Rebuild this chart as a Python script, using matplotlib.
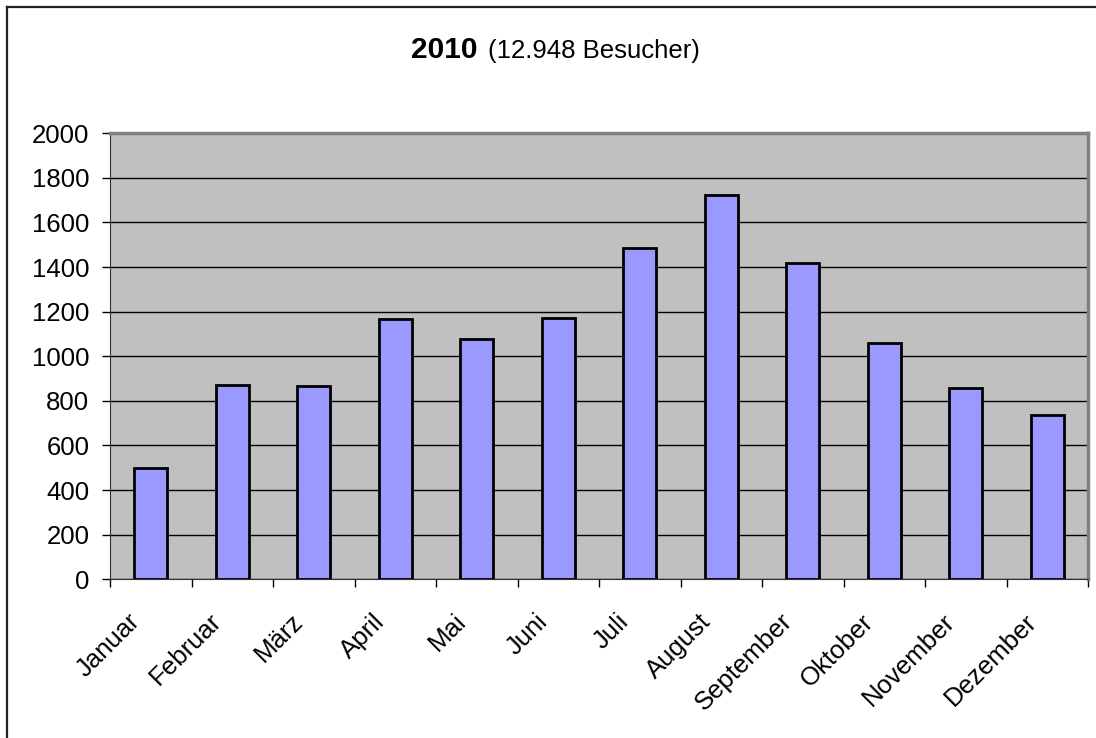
import numpy as np
import matplotlib
matplotlib.use('Agg')
import matplotlib.pyplot as plt
import matplotlib.transforms as mtransforms
from matplotlib.lines import Line2D

plt.rcParams['font.family'] = ['Liberation Sans', 'DejaVu Sans']

# data
months = ['Januar', 'Februar', 'März', 'April', 'Mai', 'Juni', 'Juli',
          'August', 'September', 'Oktober', 'November', 'Dezember']
visitors = [499, 871, 868, 1169, 1079, 1173, 1485, 1724, 1418, 1061, 860, 739]
yticks = [0, 200, 400, 600, 800, 1000, 1200, 1400, 1600, 1800, 2000]

fig = plt.figure(figsize=(10.96, 7.38), dpi=100)
ax = fig.add_axes([110/1096, 1 - 579.3/738, (1088 - 110)/1096, (579.3 - 133.3)/738])

x = np.arange(len(months))
ax.set_facecolor('#C0C0C0')
ax.bar(x, visitors, width=0.40, color='#9999FF', edgecolor='black',
       linewidth=2, zorder=3)

ax.set_xlim(-0.5, len(months) - 0.5)
ax.set_ylim(0, 2000)
ax.set_yticks(yticks)
ax.set_yticklabels([str(v) for v in yticks])
ax.yaxis.grid(True, color='black', linewidth=1, zorder=1)
ax.set_axisbelow(True)

# ticks between the categories, labels centred under the bars
ax.set_xticks(np.arange(len(months) + 1) - 0.5)
ax.set_xticklabels([])
ax.set_xticks(x, minor=True)
ax.set_xticklabels(months, minor=True, rotation=45, ha='right', va='top',
                   rotation_mode='anchor', fontsize=18.5)
ax.tick_params(axis='x', which='minor', length=0, pad=0)
ax.tick_params(axis='x', which='major', length=5.8, width=1, direction='out')
ax.tick_params(axis='y', length=5.8, width=1, direction='out', labelsize=18.5, pad=9)

offset = mtransforms.ScaledTranslation(-0.23, -0.30, fig.dpi_scale_trans)
for lbl in ax.xaxis.get_minorticklabels():
    lbl.set_transform(lbl.get_transform() + offset)

for side in ['top', 'right']:
    ax.spines[side].set_color('#808080')
    ax.spines[side].set_linewidth(2.5)
ax.spines['left'].set_color('#333333')
ax.spines['bottom'].set_color('#333333')

# title in two parts
fig.text(478/1096, 1 - 58/738, '2010', ha='right', va='baseline',
         fontsize=21.5, fontweight='bold')
fig.text(488/1096, 1 - 58/738, '(12.948 Besucher)', ha='left', va='baseline',
         fontsize=18.5)

# outer chart border (left and top visible)
bx, by = 6.5/1096, 1 - 6.5/738
fig.add_artist(Line2D([bx, bx], [0, by], color='#222222', linewidth=1.6))
fig.add_artist(Line2D([bx, 1], [by, by], color='#222222', linewidth=1.6))

fig.savefig('out.png', dpi=100)
